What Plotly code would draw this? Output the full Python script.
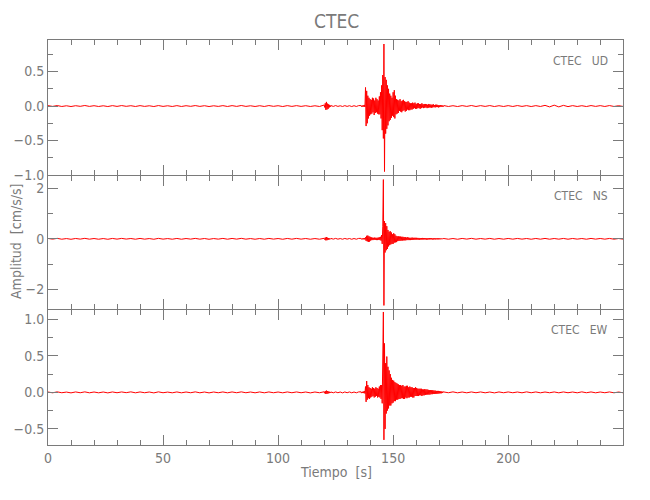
import numpy as np
import plotly.graph_objects as go
from plotly.subplots import make_subplots

# ---------------- data ----------------
# Time grids of the digitised pieces of each trace (seconds)
PRE_T0, PRE_DT = 0.0, 2.0        # 0 – 118 s
BLIP_T0, BLIP_DT = 120.0, 0.25   # 120 – 122.75 s
GAP_T0, GAP_DT = 123.0, 1.0      # 123 – 135 s
EVT_T0, EVT_DT = 136.0, 0.25     # 136 – 171.75 s
POST_T0, POST_DT = 172.0, 2.0    # 172 – 250 s

# ---- CTEC UD ----
UD_PRE = [0.006, -0.005, 0.007, -0.006, 0.004, -0.007, 0.005, -0.004, 0.008, -0.005,
          0.005, -0.006, 0.004, -0.007, 0.006, -0.005, 0.007, -0.004, 0.005, -0.006,
          0.006, -0.005, 0.004, -0.007, 0.007, -0.005, 0.004, -0.006, 0.006, -0.006,
          0.005, -0.004, 0.007, -0.005, 0.005, -0.007, 0.004, -0.005, 0.006, -0.006,
          0.006, -0.005, 0.008, -0.005, 0.004, -0.006, 0.005, -0.006, 0.007, -0.004,
          0.005, -0.007, 0.006, -0.005, 0.006, -0.005, 0.005, -0.006, 0.004, -0.006]
UD_BLIP = [0.015, -0.02, 0.04, -0.055, 0.06, -0.05, 0.035, -0.04, 0.025, -0.02, 0.015, -0.010]
UD_GAP = [0.006, -0.005, 0.007, -0.005, 0.004, -0.006, 0.006, -0.005, 0.005, -0.007, 0.005, -0.006, 0.006]
UD_EVT = [0.008, -0.010, 0.007, -0.009,   0.012, -0.010, 0.016, -0.014,
          0.27, -0.29, 0.22, -0.25,       0.15, -0.18, 0.12, -0.14,
          0.10, -0.12, 0.09, -0.11,       0.12, -0.09, 0.11, -0.13,
          0.08, -0.10, 0.12, -0.09,       0.10, -0.11, 0.08, -0.12,
          0.14, -0.12, 0.20, -0.18,       0.30, -0.35, 0.45, -0.47,
          0.90, -0.95, 0.42, -0.40,       0.38, -0.33, 0.30, -0.28,
          0.25, -0.22, 0.18, -0.20,       0.15, -0.17, 0.12, -0.14,
          0.20, -0.16, 0.23, -0.18,       0.15, -0.12, 0.10, -0.11,
          0.09, -0.10, 0.08, -0.07,       0.10, -0.08, 0.07, -0.09,
          0.08, -0.07, 0.09, -0.06,       0.07, -0.08, 0.06, -0.07,
          0.06, -0.05, 0.07, -0.06,       0.05, -0.06, 0.04, -0.05,
          0.04, -0.05, 0.05, -0.04,       0.04, -0.03, 0.05, -0.04,
          0.03, -0.04, 0.04, -0.03,       0.04, -0.03, 0.03, -0.04,
          0.03, -0.03, 0.04, -0.02,       0.025, -0.03, 0.03, -0.025,
          0.03, -0.02, 0.025, -0.03,      0.02, -0.025, 0.03, -0.02,
          0.025, -0.02, 0.02, -0.025,     0.02, -0.02, 0.025, -0.015,
          0.015, -0.02, 0.02, -0.015,     0.02, -0.015, 0.015, -0.02,
          0.012, -0.015, 0.014, -0.010,   0.010, -0.012, 0.008, -0.010]
UD_POST = [0.007, -0.006, 0.005, -0.007, 0.006, -0.005, 0.008, -0.006, 0.006, -0.005,
           0.007, -0.007, 0.005, -0.006, 0.006, -0.006, 0.007, -0.005, 0.006, -0.007,
           0.006, -0.006, 0.010, -0.012, 0.013, -0.012, 0.010, -0.008, 0.006, -0.006,
           0.005, -0.007, 0.007, -0.005, 0.006, -0.006, 0.007, -0.006, 0.005, -0.006]

# ---- CTEC NS ----
NS_PRE = [0.015, -0.012, 0.018, -0.015, 0.010, -0.018, 0.014, -0.011, 0.019, -0.013,
          0.012, -0.016, 0.011, -0.018, 0.015, -0.012, 0.017, -0.010, 0.013, -0.015,
          0.016, -0.013, 0.011, -0.017, 0.018, -0.012, 0.010, -0.015, 0.015, -0.016,
          0.012, -0.011, 0.017, -0.013, 0.013, -0.018, 0.011, -0.012, 0.016, -0.015,
          0.015, -0.012, 0.019, -0.013, 0.011, -0.016, 0.013, -0.015, 0.017, -0.011,
          0.012, -0.017, 0.015, -0.013, 0.016, -0.012, 0.013, -0.016, 0.011, -0.015]
NS_BLIP = [0.02, -0.03, 0.05, -0.06, 0.07, -0.055, 0.045, -0.04, 0.03, -0.025, 0.02, -0.015]
NS_GAP = [0.015, -0.012, 0.017, -0.013, 0.011, -0.016, 0.015, -0.012, 0.013, -0.017, 0.012, -0.015, 0.016]
NS_EVT = [0.018, -0.02, 0.015, -0.02,     0.025, -0.02, 0.03, -0.025,
          0.06, -0.08, 0.12, -0.10,       0.13, -0.12, 0.10, -0.11,
          0.08, -0.07, 0.06, -0.05,       0.045, -0.05, 0.04, -0.04,
          0.05, -0.04, 0.04, -0.05,       0.04, -0.05, 0.05, -0.04,
          0.06, -0.05, 0.08, -0.07,       0.15, -0.20, 0.50, 2.34,
          -2.63, 0.70, -0.54, 0.62,       -0.45, 0.50, -0.40, 0.35,
          -0.30, 0.28, -0.25, 0.30,       -0.22, 0.25, -0.20, 0.18,
          -0.20, 0.22, -0.15, 0.18,       -0.14, 0.12, -0.13, 0.10,
          -0.09, 0.10, -0.08, 0.09,       -0.08, 0.09, -0.07, 0.08,
          -0.07, 0.08, -0.06, 0.07,       -0.06, 0.07, -0.06, 0.05,
          -0.05, 0.06, -0.05, 0.05,       -0.05, 0.04, -0.05, 0.04,
          -0.04, 0.05, -0.04, 0.04,       -0.04, 0.04, -0.035, 0.04,
          -0.035, 0.04, -0.03, 0.035,     -0.03, 0.035, -0.035, 0.03,
          -0.03, 0.03, -0.03, 0.035,      -0.03, 0.03, -0.025, 0.03,
          -0.025, 0.03, -0.03, 0.025,     -0.03, 0.025, -0.025, 0.03,
          -0.025, 0.03, -0.02, 0.025,     -0.03, 0.02, -0.025, 0.03,
          -0.02, 0.025, -0.025, 0.02,     -0.02, 0.02, -0.025, 0.02,
          -0.02, 0.02, -0.018, 0.016,     -0.015, 0.016, -0.014, 0.015]
NS_POST = [0.014, -0.015, 0.012, -0.017, 0.015, -0.011, 0.018, -0.014, 0.013, -0.012,
           0.016, -0.015, 0.012, -0.014, 0.015, -0.013, 0.015, -0.012, 0.013, -0.016,
           0.014, -0.014, 0.016, -0.015, 0.013, -0.013, 0.015, -0.015, 0.014, -0.012,
           0.012, -0.015, 0.016, -0.012, 0.014, -0.013, 0.015, -0.014, 0.012, -0.013]

# ---- CTEC EW ----
EW_PRE = [0.005, -0.006, 0.007, -0.005, 0.004, -0.007, 0.006, -0.005, 0.007, -0.006,
          0.005, -0.006, 0.005, -0.007, 0.006, -0.005, 0.006, -0.004, 0.007, -0.006,
          0.006, -0.005, 0.005, -0.007, 0.007, -0.005, 0.004, -0.006, 0.006, -0.006,
          0.005, -0.005, 0.007, -0.006, 0.005, -0.007, 0.005, -0.005, 0.006, -0.006,
          0.006, -0.005, 0.007, -0.005, 0.005, -0.006, 0.006, -0.006, 0.006, -0.005,
          0.005, -0.006, 0.006, -0.005, 0.006, -0.005, 0.005, -0.007, 0.005, -0.005]
EW_BLIP = [0.008, -0.012, 0.018, -0.022, 0.025, -0.02, 0.018, -0.015, 0.012, -0.010, 0.008, -0.006]
EW_GAP = [0.005, -0.006, 0.006, -0.005, 0.005, -0.007, 0.006, -0.005, 0.006, -0.006, 0.005, -0.006, 0.006]
EW_EVT = [0.008, -0.010, 0.007, -0.009,   0.012, -0.010, 0.016, -0.015,
          0.08, -0.13, 0.155, -0.10,      0.10, -0.08, 0.07, -0.09,
          0.06, -0.07, 0.05, -0.06,       0.07, -0.05, 0.06, -0.07,
          0.05, -0.06, 0.07, -0.05,       0.06, -0.07, 0.05, -0.06,
          0.08, -0.07, 0.10, -0.09,       0.10, -0.15, 0.30, 1.10,
          -0.65, 0.67, -0.50, 0.40,       -0.29, 0.49, -0.25, 0.35,
          -0.22, 0.30, -0.18, 0.25,       -0.18, 0.20, -0.15, 0.17,
          -0.14, 0.16, -0.12, 0.14,       -0.12, 0.13, -0.10, 0.12,
          -0.10, 0.11, -0.09, 0.10,       -0.09, 0.10, -0.08, 0.09,
          -0.08, 0.10, -0.09, 0.08,       -0.09, 0.08, -0.07, 0.09,
          -0.08, 0.09, -0.07, 0.07,       -0.07, 0.08, -0.06, 0.07,
          -0.06, 0.07, -0.07, 0.06,       -0.07, 0.06, -0.05, 0.07,
          -0.05, 0.06, -0.05, 0.05,       -0.05, 0.05, -0.04, 0.05,
          -0.04, 0.05, -0.05, 0.04,       -0.04, 0.04, -0.04, 0.045,
          -0.035, 0.04, -0.03, 0.04,      -0.03, 0.035, -0.03, 0.03,
          -0.03, 0.03, -0.025, 0.03,      -0.025, 0.03, -0.02, 0.025,
          -0.02, 0.025, -0.02, 0.02,      -0.02, 0.02, -0.018, 0.02,
          -0.015, 0.018, -0.013, 0.015,   -0.012, 0.012, -0.009, 0.010]
EW_POST = [0.006, -0.005, 0.007, -0.006, 0.005, -0.006, 0.006, -0.005, 0.006, -0.006,
           0.005, -0.007, 0.006, -0.005, 0.006, -0.005, 0.005, -0.006, 0.007, -0.005,
           0.006, -0.006, 0.005, -0.005, 0.006, -0.006, 0.006, -0.005, 0.005, -0.006,
           0.007, -0.005, 0.006, -0.006, 0.005, -0.005, 0.006, -0.006, 0.005, -0.006]

STATION = "CTEC"
COMPONENTS = ["UD", "NS", "EW"]
Y_RANGES = [[-1.0, 0.958], [-2.77, 2.48], [-0.72, 1.127]]
Y_DTICK = [0.5, 2, 0.5]
Y_MINOR = [0.25, 1, 0.25]
Y_FMT = [".1f", "d", ".1f"]
X_RANGE = [0, 249.9]
TITLE = "CTEC"
XTITLE = "Tiempo  [s]"
YTITLE = "Amplitud  [cm/s/s]"

# ---------------- build traces ----------------
def grid(t0, dt, n):
    return t0 + dt * np.arange(n)

def assemble(pre, blip, gap, evt, post):
    pieces = [(PRE_T0, PRE_DT, pre), (BLIP_T0, BLIP_DT, blip), (GAP_T0, GAP_DT, gap),
              (EVT_T0, EVT_DT, evt), (POST_T0, POST_DT, post)]
    ts, vs = [], []
    for t0, dt, v in pieces:
        ts.append(grid(t0, dt, len(v)))
        vs.append(np.asarray(v, dtype=float))
    return np.concatenate(ts), np.concatenate(vs)

series = [assemble(UD_PRE, UD_BLIP, UD_GAP, UD_EVT, UD_POST),
          assemble(NS_PRE, NS_BLIP, NS_GAP, NS_EVT, NS_POST),
          assemble(EW_PRE, EW_BLIP, EW_GAP, EW_EVT, EW_POST)]

GREY = "#7a7a7a"
FONT = "Liberation Sans Narrow, DejaVu Sans Condensed, Arial Narrow, sans-serif"

fig = make_subplots(rows=3, cols=1, shared_xaxes=True, vertical_spacing=0)

for i, (t, v) in enumerate(series):
    fig.add_trace(go.Scatter(x=t, y=v, mode="lines",
                             line=dict(color="rgb(255,0,0)", width=1),
                             hoverinfo="skip", showlegend=False),
                  row=i + 1, col=1)

# The page body adds an 8 px offset; target plot area on the page: x 48–623, y 40–445
OFF = 8
W, H = 650, 500
PL, PT = 48 - OFF, 40 - OFF
PR, PB = W - (623 - OFF), H - (445 - OFF)
pw, ph = W - PL - PR, H - PT - PB

def px_x(x):
    return (x - OFF - PL) / pw

def px_y(y):
    return (H - PB - (y - OFF)) / ph

# panel edges on the page (1 px apart so the shared frame lines coincide)
PANEL_EDGES = [(40, 175), (176, 309), (310, 445)]

axis_common = dict(showline=True, linecolor=GREY, linewidth=1, mirror="ticks",
                   ticks="inside", ticklen=10, tickcolor=GREY, tickwidth=1,
                   showgrid=False, zeroline=False, automargin=False,
                   tickfont=dict(family=FONT, size=14, color=GREY))

for i in range(3):
    top, bot = PANEL_EDGES[i]
    fig.update_xaxes(range=X_RANGE, tick0=0, dtick=50,
                     minor=dict(dtick=10, ticks="inside", ticklen=5, tickcolor=GREY,
                                showgrid=False),
                     showticklabels=(i == 2), **axis_common, row=i + 1, col=1)
    fig.update_yaxes(range=Y_RANGES[i], tick0=0, dtick=Y_DTICK[i], tickformat=Y_FMT[i],
                     domain=[px_y(bot), px_y(top)],
                     minor=dict(dtick=Y_MINOR[i], tick0=0, ticks="inside", ticklen=5,
                                tickcolor=GREY, showgrid=False),
                     **axis_common, row=i + 1, col=1)

annotations = [
    dict(text=TITLE, x=px_x(336), y=px_y(21), xref="paper", yref="paper",
         xanchor="center", yanchor="middle", showarrow=False,
         font=dict(family=FONT, size=19, color=GREY)),
    dict(text=XTITLE, x=px_x(336), y=px_y(472), xref="paper", yref="paper",
         xanchor="center", yanchor="middle", showarrow=False,
         font=dict(family=FONT, size=14, color=GREY)),
    dict(text=YTITLE, x=px_x(16), y=px_y(242), xref="paper", yref="paper",
         xanchor="center", yanchor="middle", showarrow=False, textangle=-90,
         font=dict(family=FONT, size=14, color=GREY)),
]
label_y = [61, 196, 330]
for comp, ly in zip(COMPONENTS, label_y):
    annotations.append(dict(text=STATION + "\u00a0\u00a0\u00a0" + comp,
                            x=px_x(610), y=px_y(ly), xref="paper", yref="paper",
                            xanchor="right", yanchor="middle", showarrow=False,
                            font=dict(family=FONT, size=12, color=GREY)))

fig.update_layout(width=W, height=H,
                  margin=dict(l=PL, r=PR, t=PT, b=PB, pad=0, autoexpand=False),
                  paper_bgcolor="white", plot_bgcolor="white",
                  annotations=annotations,
                  font=dict(family=FONT, color=GREY))

fig.write_html("out.html")
